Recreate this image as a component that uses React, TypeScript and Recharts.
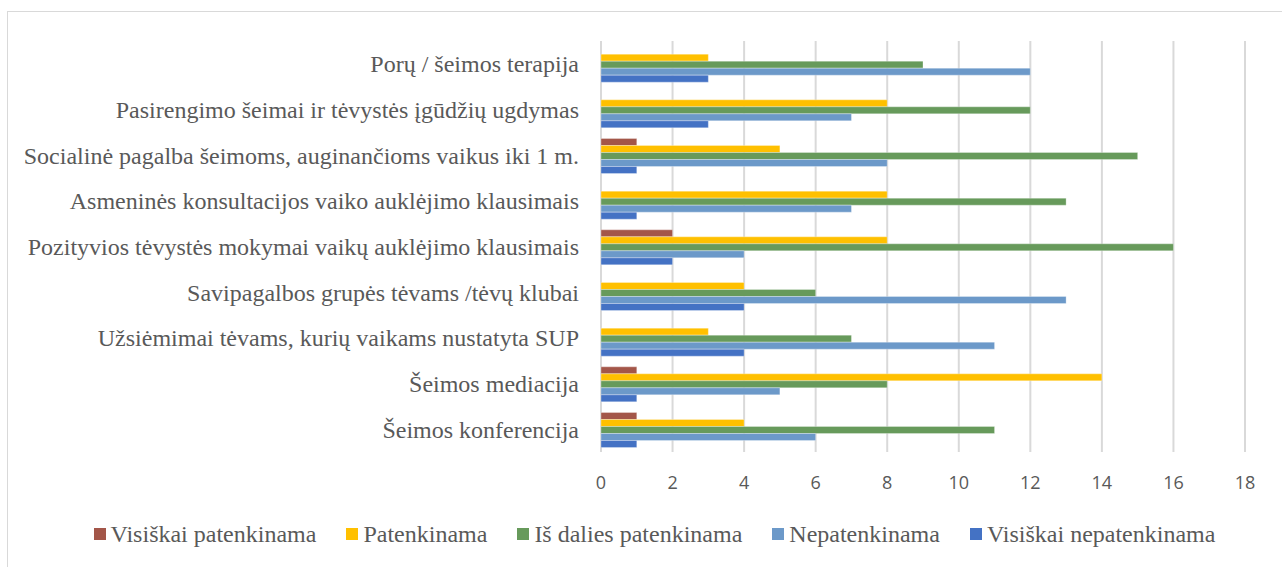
import { BarChart, Bar, XAxis, YAxis, CartesianGrid, Legend } from 'recharts';

// services, top to bottom as in the chart
const categories = [
  'Porų / šeimos terapija',
  'Pasirengimo šeimai ir tėvystės įgūdžių ugdymas',
  'Socialinė pagalba šeimoms, auginančioms vaikus iki 1 m.',
  'Asmeninės konsultacijos vaiko auklėjimo klausimais',
  'Pozityvios tėvystės mokymai vaikų auklėjimo klausimais',
  'Savipagalbos grupės tėvams /tėvų klubai',
  'Užsiėmimai tėvams, kurių vaikams nustatyta SUP',
  'Šeimos mediacija',
  'Šeimos konferencija',
];

const visiskaiPatenkinama = [0, 0, 1, 0, 2, 0, 0, 1, 1];
const patenkinama = [3, 8, 5, 8, 8, 4, 3, 14, 4];
const isDaliesPatenkinama = [9, 12, 15, 13, 16, 6, 7, 8, 11];
const nepatenkinama = [12, 7, 8, 7, 4, 13, 11, 5, 6];
const visiskaiNepatenkinama = [3, 3, 1, 1, 2, 4, 4, 1, 1];

const xTicks = [0, 2, 4, 6, 8, 10, 12, 14, 16, 18];

const series = [
  { key: 'vp', name: 'Visiškai patenkinama', color: '#A35649' },
  { key: 'p', name: 'Patenkinama', color: '#FFC000' },
  { key: 'dp', name: 'Iš dalies patenkinama', color: '#679A5B' },
  { key: 'n', name: 'Nepatenkinama', color: '#6C99C9' },
  { key: 'vn', name: 'Visiškai nepatenkinama', color: '#4472C4' },
];

const data = categories.map((name, i) => ({
  name,
  vp: visiskaiPatenkinama[i],
  p: patenkinama[i],
  dp: isDaliesPatenkinama[i],
  n: nepatenkinama[i],
  vn: visiskaiNepatenkinama[i],
}));

const serif = '"Liberation Serif", "Times New Roman", serif';

function ChartLegend() {
  return (
    <div
      style={{
        height: 70,
        paddingTop: 29,
        paddingLeft: 56,
        boxSizing: 'border-box',
        display: 'flex',
        justifyContent: 'center',
        alignItems: 'flex-start',
        gap: 30,
        fontFamily: serif,
        fontSize: 24,
        color: '#595959',
        lineHeight: '26px',
      }}
    >
      {series.map((s) => (
        <div key={s.key} style={{ display: 'flex', alignItems: 'center' }}>
          <span style={{ width: 12, height: 12, background: s.color, marginRight: 5, display: 'inline-block' }} />
          <span>{s.name}</span>
        </div>
      ))}
    </div>
  );
}

export default function App() {
  return (
    <div
      style={{
        position: 'absolute',
        left: 7,
        top: 11,
        width: 1290,
        height: 570,
        border: '1px solid #d9d9d9',
        background: '#fff',
      }}
    >
      <BarChart
        width={1260}
        height={550}
        data={data}
        layout="vertical"
        margin={{ top: 29, right: 23, bottom: 0, left: 0 }}
        barCategoryGap="13.5%"
        barGap={0}
      >
        <CartesianGrid horizontal={false} stroke="#d9d9d9" strokeWidth={2} />
        <XAxis
          type="number"
          domain={[0, 18]}
          ticks={xTicks}
          axisLine={false}
          tickLine={false}
          tickSize={0}
          tickMargin={24}
          height={40}
          tick={{ fill: '#595959', fontSize: 18, fontFamily: '"Open Sans", sans-serif' }}
        />
        <YAxis
          type="category"
          dataKey="name"
          width={593}
          axisLine={false}
          tickLine={false}
          tickSize={0}
          tickMargin={22}
          interval={0}
          tick={{ fill: '#595959', fontSize: 24, fontFamily: serif }}
        />
        <Legend verticalAlign="bottom" content={() => <ChartLegend />} />
        {series.map((s) => (
          <Bar
            key={s.key}
            dataKey={s.key}
            name={s.name}
            fill={s.color}
            stroke="#ffffff"
            strokeOpacity={0.5}
            strokeWidth={0.6}
            isAnimationActive={false}
          />
        ))}
      </BarChart>
    </div>
  );
}
